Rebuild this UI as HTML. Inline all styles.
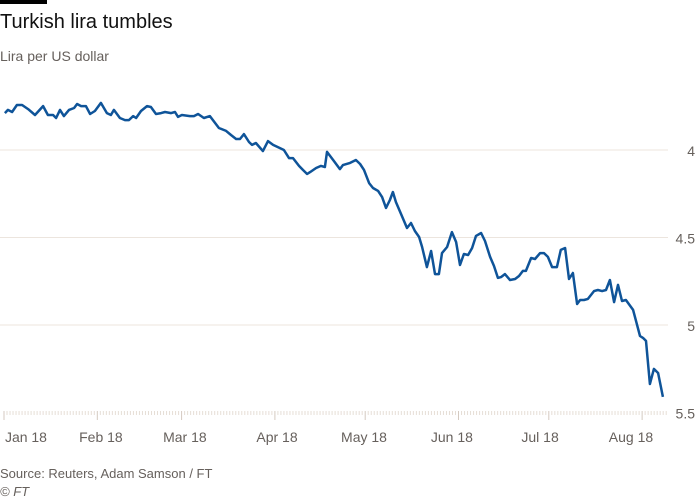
<!DOCTYPE html>
<html><head><meta charset="utf-8"><style>
body{margin:0;background:#fff;font-family:"Liberation Sans",sans-serif;}
#wrap{position:relative;width:700px;height:500px;overflow:hidden;}
</style></head><body>
<div id="wrap">
<div style="position:absolute;left:0;top:0;width:47px;height:4px;background:#000"></div>
<div style="position:absolute;left:0;top:11px;font-size:20px;color:#111">Turkish lira tumbles</div>
<div style="position:absolute;left:0;top:48px;font-size:14px;color:#66605c">Lira per US dollar</div>
<svg id="chart" width="700" height="500" style="position:absolute;left:0;top:0"></svg>
<div style="position:absolute;left:0;top:466px;font-size:13px;color:#66605c">Source: Reuters, Adam Samson / FT</div>
<div style="position:absolute;left:0;top:484px;font-size:13px;color:#66605c;font-style:italic">© FT</div>
</div>
<script>
const days=[0.3,1.3,2.7,4.3,6.0,8.0,10.3,13.0,14.6,16.3,17.3,18.6,19.9,21.6,23.3,24.3,25.6,27.2,28.6,30.2,32.2,34.2,35.5,36.5,38.5,40.2,41.5,42.9,43.9,45.5,47.5,48.8,50.5,52.2,53.5,55.5,56.8,57.8,59.1,61.8,63.1,64.5,66.4,68.4,71.4,73.8,75.4,77.1,78.4,79.7,81.4,82.4,83.7,86.0,87.7,89.4,91.7,93.0,94.7,96.0,98.0,99.3,100.7,101.7,103.7,105.3,106.6,107.3,109.6,111.6,112.6,115.0,116.9,118.3,119.6,121.3,122.6,124.3,125.6,126.9,128.2,129.2,130.2,132.2,133.9,135.2,136.5,137.9,138.9,140.5,141.9,143.2,144.5,145.5,147.2,148.8,150.2,151.5,152.8,154.2,155.5,156.8,158.5,159.8,161.5,162.8,164.1,165.1,166.4,168.1,169.8,171.1,172.4,173.4,175.1,176.4,178.1,179.4,180.7,182.1,183.7,185.0,186.4,187.7,189.0,190.4,191.4,192.7,194.0,196.0,197.3,198.7,200.0,201.3,202.7,204.0,205.3,206.6,209.0,211.3,212.3,213.3,214.6,215.9,217.3,218.9];
const values=[3.789,3.771,3.783,3.743,3.743,3.766,3.8,3.749,3.8,3.8,3.817,3.771,3.806,3.771,3.76,3.737,3.749,3.749,3.794,3.777,3.731,3.789,3.8,3.771,3.817,3.829,3.829,3.806,3.817,3.777,3.749,3.754,3.794,3.789,3.783,3.789,3.783,3.811,3.8,3.806,3.806,3.794,3.817,3.806,3.874,3.891,3.914,3.937,3.937,3.909,3.954,3.971,3.96,4.006,3.949,3.971,3.989,4.0,4.046,4.046,4.091,4.114,4.137,4.126,4.103,4.091,4.097,4.011,4.063,4.109,4.086,4.074,4.057,4.08,4.114,4.189,4.217,4.234,4.269,4.331,4.286,4.24,4.297,4.377,4.446,4.417,4.463,4.497,4.554,4.669,4.577,4.709,4.709,4.589,4.554,4.469,4.526,4.657,4.594,4.6,4.56,4.491,4.474,4.52,4.611,4.663,4.731,4.726,4.709,4.743,4.737,4.72,4.691,4.691,4.617,4.623,4.589,4.589,4.611,4.669,4.669,4.571,4.56,4.737,4.703,4.88,4.857,4.857,4.851,4.806,4.8,4.806,4.8,4.743,4.869,4.771,4.863,4.857,4.914,5.063,5.074,5.091,5.337,5.251,5.274,5.411];
const yTicks=[4,4.5,5,5.5];
const yTickLabels=["4","4.5","5","5.5"];
const monthDays=[0,31,59,90,120,151,181,212];
const monthLabels=["Jan 18","Feb 18","Mar 18","Apr 18","May 18","Jun 18","Jul 18","Aug 18"];
const labelDays=[7.3,32.2,60.1,90.7,119.6,148.8,178.1,208.3];
const lastDay=220;

const NS="http://www.w3.org/2000/svg";
const svg=document.getElementById('chart');
const x=d=>4+d*3.01;
const y=v=>150+(v-4)*175;
function mk(t,a){const e=document.createElementNS(NS,t);for(const k in a)e.setAttribute(k,a[k]);svg.appendChild(e);return e;}
yTicks.forEach((t,i)=>{
  if(t<5.5){const g=mk('line',{x1:0,x2:668,y1:y(t),y2:y(t),stroke:'#ece5de','stroke-width':1});
  
  }
  const l=mk('text',{x:695,y:y(t)+6,'text-anchor':'end','font-size':14,fill:'#66605c','font-family':'Liberation Sans, sans-serif'});
  l.textContent=yTickLabels[i];
  
  
});
for(let d=0;d<=lastDay;d++){
  const isM=monthDays.includes(d);
  const t=mk('line',{x1:x(d),x2:x(d),y1:411,y2:isM?420:415,stroke:isM?'#d4cac1':'#e6ded6','stroke-width':1});
  
  
}
monthLabels.forEach((m,i)=>{
  const l=mk('text',{x:x(labelDays[i]),y:442,'text-anchor':'middle','font-size':14,fill:'#66605c','font-family':'Liberation Sans, sans-serif'});
  l.textContent=m;
  
  
});
const p=mk('path',{d:days.map((d,i)=>(i?'L':'M')+x(d).toFixed(1)+','+y(values[i]).toFixed(1)).join(''),fill:'none',stroke:'#0f5499','stroke-width':2.5,'stroke-linejoin':'round'});


</script>
</body></html>
